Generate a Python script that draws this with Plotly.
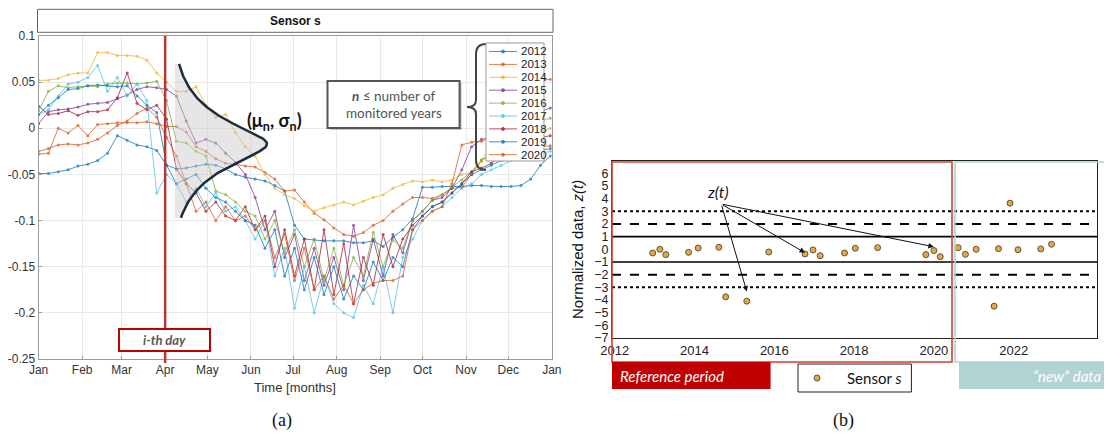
import math
import plotly.graph_objects as go

# The page body keeps the browser's 8px margin, so the figure is 1096x425 placed at (8, 8)
OFF = 8
FW, FH = 1112 - 2 * OFF, 441 - 2 * OFF

# ---------------- data: panel (a) ----------------
days = list(range(0, 365, 7))  # weekly sample days (0..364)
month_ticks = [0, 31, 59, 90, 120, 151, 181, 212, 243, 273, 304, 334, 365]
month_labels = ["Jan", "Feb", "Mar", "Apr", "May", "Jun", "Jul", "Aug", "Sep", "Oct", "Nov", "Dec", "Jan"]
y_ticks_a = [-0.25, -0.2, -0.15, -0.1, -0.05, 0, 0.05, 0.1]
y_labels_a = ["-0.25", "-0.2", "-0.15", "-0.1", "-0.05", "0", "0.05", "0.1"]

years = ["2012", "2013", "2014", "2015", "2016", "2017", "2018", "2019", "2020"]
colors = ["#0072BD", "#D95319", "#EDB120", "#7E2F8E", "#77AC30", "#4DBEEE", "#A2142F", "#0072BD", "#D95319"]

s2012 = [-0.049, -0.049, -0.047, -0.045, -0.041, -0.039, -0.035, -0.027, -0.008, -0.013, -0.018, -0.020, -0.024,
         -0.040, -0.044, -0.043, -0.041, -0.039, -0.040, -0.044, -0.050, -0.053, -0.055, -0.057, -0.062, -0.068,
         -0.105, -0.120, -0.121, -0.122, -0.122, -0.122, -0.124, -0.124, -0.122, -0.128, -0.118, -0.110, -0.098,
         -0.064, -0.064, -0.063, -0.063, -0.063, -0.062, -0.062, -0.063, -0.063, -0.063, -0.062, -0.055, -0.040, -0.030]
s2013 = [-0.028, -0.027, 0.000, -0.005, 0.003, -0.008, 0.004, 0.005, 0.006, 0.006, 0.006, 0.007, 0.005,
         0.002, 0.002, -0.004, -0.020, -0.025, -0.033, -0.038, -0.039, -0.041, -0.042, -0.048, -0.055, -0.068,
         -0.067, -0.080, -0.092, -0.099, -0.108, -0.115, -0.117, -0.113, -0.105, -0.100, -0.090, -0.082, -0.075,
         -0.075, -0.076, -0.072, -0.065, -0.064, -0.050, -0.035, -0.028, -0.024, -0.022, -0.021, -0.020, -0.020, -0.019]
s2014 = [0.052, 0.052, 0.054, 0.058, 0.060, 0.060, 0.082, 0.082, 0.079, 0.079, 0.078, 0.074, 0.060,
         0.050, 0.040, 0.040, 0.045, 0.025, 0.012, 0.015, -0.005, -0.020, -0.030, -0.050, -0.065, -0.072,
         -0.076, -0.084, -0.090, -0.086, -0.083, -0.080, -0.083, -0.079, -0.075, -0.072, -0.065, -0.061, -0.057,
         -0.058, -0.056, -0.058, -0.056, -0.050, -0.048, -0.036, -0.017, -0.015, -0.014, -0.012, -0.010, -0.005, 0.000]
s2015 = [0.005, 0.018, 0.020, 0.021, 0.023, 0.026, 0.027, 0.028, 0.032, 0.036, 0.042, 0.045, 0.044,
         0.042, 0.035, 0.008, -0.016, -0.012, -0.016, -0.027, -0.037, -0.050, -0.075, -0.110, -0.090, -0.140,
         -0.115, -0.165, -0.130, -0.170, -0.140, -0.175, -0.105, -0.165, -0.120, -0.160, -0.115, -0.135, -0.100,
         -0.090, -0.078, -0.075, -0.065, -0.045, -0.020, -0.012, -0.010, -0.008, -0.005, 0.005, 0.012, 0.018, 0.022]
s2016 = [0.019, 0.040, 0.046, 0.044, 0.045, 0.046, 0.045, 0.048, 0.049, 0.049, 0.048, 0.049, 0.051,
         0.030, -0.014, -0.016, -0.025, -0.030, -0.068, -0.072, -0.080, -0.090, -0.095, -0.120, -0.100, -0.135,
         -0.110, -0.150, -0.120, -0.165, -0.130, -0.170, -0.140, -0.160, -0.113, -0.150, -0.121, -0.130, -0.100,
         -0.090, -0.078, -0.072, -0.064, -0.056, -0.047, -0.034, -0.030, -0.025, -0.020, -0.010, 0.000, 0.008, 0.011]
s2017 = [0.015, 0.020, 0.035, 0.048, 0.050, 0.055, 0.068, 0.040, 0.055, 0.035, 0.048, 0.030, -0.070,
         -0.050, -0.060, -0.080, -0.065, -0.085, -0.070, -0.090, -0.085, -0.100, -0.120, -0.100, -0.160, -0.130,
         -0.195, -0.150, -0.200, -0.160, -0.190, -0.200, -0.205, -0.170, -0.190, -0.150, -0.200, -0.140, -0.120,
         -0.100, -0.090, -0.085, -0.075, -0.065, -0.060, -0.050, -0.045, -0.040, -0.035, -0.030, -0.028, -0.027, -0.025]
s2018 = [0.024, 0.015, 0.016, 0.019, 0.014, 0.018, 0.018, 0.020, 0.033, 0.060, 0.027, 0.020, 0.025,
         0.010, -0.044, -0.060, -0.070, -0.090, -0.080, -0.095, -0.100, -0.085, -0.110, -0.095, -0.150, -0.110,
         -0.160, -0.120, -0.175, -0.110, -0.180, -0.125, -0.190, -0.140, -0.170, -0.115, -0.150, -0.120, -0.105,
         -0.095, -0.085, -0.080, -0.070, -0.060, -0.047, -0.043, -0.038, -0.030, -0.020, -0.012, -0.008, -0.010, -0.008]
s2019 = [0.015, 0.025, 0.033, 0.042, 0.043, 0.046, 0.047, 0.046, 0.045, 0.046, 0.035, 0.025, 0.017,
         -0.040, -0.060, -0.055, -0.050, -0.065, -0.075, -0.080, -0.090, -0.100, -0.105, -0.130, -0.110, -0.160,
         -0.130, -0.175, -0.140, -0.180, -0.150, -0.185, -0.160, -0.175, -0.145, -0.165, -0.140, -0.150, -0.110,
         -0.095, -0.085, -0.080, -0.070, -0.060, -0.050, -0.045, -0.040, -0.035, -0.030, -0.027, -0.025, -0.024, -0.022]
s2020 = [-0.025, -0.022, -0.018, -0.017, -0.018, -0.016, -0.012, -0.005, 0.003, 0.008, 0.016, 0.022, 0.012,
         -0.010, -0.030, -0.060, -0.090, -0.080, -0.100, -0.085, -0.100, -0.095, -0.110, -0.100, -0.140, -0.115,
         -0.165, -0.130, -0.175, -0.160, -0.185, -0.170, -0.190, -0.175, -0.168, -0.165, -0.165, -0.160, -0.110,
         -0.100, -0.090, -0.085, -0.060, -0.018, -0.015, -0.014, -0.010, 0.000, 0.020, 0.040, 0.050, 0.052, 0.053]
series = [s2012, s2013, s2014, s2015, s2016, s2017, s2018, s2019, s2020]

ith_day = 90  # April 1st
gauss_mu, gauss_top, gauss_bot = -0.017, 0.0697, -0.097

# ---------------- data: panel (b) ----------------
z_time = [2012.95, 2013.13, 2013.28, 2013.85, 2014.09, 2014.61, 2014.78, 2015.31, 2015.86, 2016.77, 2016.97,
          2017.15, 2017.76, 2018.03, 2018.59, 2019.80, 2020.00, 2020.16, 2020.61, 2020.79, 2021.06, 2021.51,
          2021.62, 2021.91, 2022.11, 2022.68, 2022.95]
z_vals = [-0.29, 0.00, -0.42, -0.24, 0.10, 0.16, -3.75, -4.09, -0.21, -0.37, -0.05, -0.50, -0.29, 0.08, 0.13,
          -0.42, -0.10, -0.58, 0.13, -0.40, 0.00, -4.49, 0.05, 3.64, -0.03, 0.03, 0.40]
z_limits = [1, 2, 3]
z_limit_styles = ["solid", "dash", "dot"]
x_ticks_b = [2012, 2014, 2016, 2018, 2020, 2022]
y_ticks_b = list(range(-7, 7))


# ---------------- helpers (screen pixel -> paper) ----------------
def px(x):
    return (x - OFF) / FW


def py(y):
    return 1 - (y - OFF) / FH


def rect(x0, y0, x1, y1, line_color=None, width=1, fill=None, layer="above"):
    return dict(type="rect", xref="paper", yref="paper", x0=px(x0), x1=px(x1), y0=py(y1), y1=py(y0),
                line=dict(color=line_color or "rgba(0,0,0,0)", width=width if line_color else 0),
                fillcolor=fill or "rgba(0,0,0,0)", layer=layer)


def text(x, y, t, size=12, color="#222", family="Liberation Sans, Arial", xanchor="center", yanchor="middle", **kw):
    return dict(x=px(x), y=py(y), xref="paper", yref="paper", text=t, showarrow=False,
                font=dict(size=size, color=color, family=family), xanchor=xanchor, yanchor=yanchor, **kw)


fig = go.Figure()

# series of panel (a)
for yr, c, vals in zip(years, colors, series):
    fig.add_trace(go.Scatter(x=days[:len(vals)], y=vals, mode="lines+markers", name=yr,
                             line=dict(color=c, width=1), marker=dict(size=3, color=c),
                             opacity=0.75, xaxis="x", yaxis="y", showlegend=False))

# gaussian-like distribution glyph
peak_day, base_day, left_day, g_w, g_c = 162.4, 94.4, 97.0, 0.03, 0.012
vs = [gauss_top + (gauss_bot - gauss_top) * k / 120 for k in range(121)]
gx = [base_day + (peak_day - base_day) * math.exp(-(math.sqrt((v - gauss_mu) ** 2 + g_c ** 2) - g_c) / g_w) for v in vs]
gx = [max(v, left_day) for v in gx]
fig.add_trace(go.Scatter(x=[left_day] + gx + [left_day], y=[gauss_top] + vs + [gauss_bot], fill="toself",
                         fillcolor="rgba(200,200,200,0.45)", line=dict(width=0), mode="lines",
                         hoverinfo="skip", showlegend=False, xaxis="x", yaxis="y"))
fig.add_trace(go.Scatter(x=gx, y=vs, mode="lines",
                         line=dict(color="#1d2b3c", width=2.5), hoverinfo="skip", showlegend=False,
                         xaxis="x", yaxis="y"))

# panel (b) points
fig.add_trace(go.Scatter(x=z_time, y=z_vals, mode="markers", name="Sensor s",
                         marker=dict(size=6, color="#EAA636", line=dict(color="#555", width=1)),
                         xaxis="x2", yaxis="y2", showlegend=False))

shapes = []
annotations = []

# ---- panel (a) decorations ----
shapes.append(rect(37.5, 9.3, 553, 32.3, line_color="#666", width=1, fill="white"))
annotations.append(text(295, 21, "<b>Sensor s</b>", size=12, color="#111"))

shapes.append(dict(type="line", xref="x", yref="paper", x0=ith_day, x1=ith_day, y0=py(363), y1=py(36),
                   line=dict(color="#B8383A", width=2.5), layer="above"))
shapes.append(rect(119, 329, 210, 351, line_color="#C00000", width=2, fill="white"))
annotations.append(text(164.5, 340, "<b><i>i-th day</i></b>", size=13, color="#595959", family="Lato"))

annotations.append(text(274, 121, "<b>(μ<sub>n</sub>, σ<sub>n</sub>)</b>", size=18, color="#111", family="Lato"))

shapes.append(rect(329.5, 83, 461.6, 130, fill="rgba(90,90,90,0.35)", layer="above"))
shapes.append(rect(327.5, 81, 459.6, 128, line_color="#555", width=2, fill="white"))
annotations.append(text(393.5, 96, "<b><i>n</i></b> ≤ number of", size=13.5, color="#555", family="Lato"))
annotations.append(text(393.5, 113, "monitored years", size=13.5, color="#555", family="Lato"))

bx0, bxt, bxe = 476, 467, 486
path = (f"M {px(bxe)} {py(44)} Q {px(bx0)} {py(44)} {px(bx0)} {py(54)} L {px(bx0)} {py(100)} "
        f"Q {px(bx0)} {py(107)} {px(bxt)} {py(107)} Q {px(bx0)} {py(107)} {px(bx0)} {py(114)} "
        f"L {px(bx0)} {py(160)} Q {px(bx0)} {py(170)} {px(bxe)} {py(170)}")
shapes.append(dict(type="path", xref="paper", yref="paper", path=path, line=dict(color="#444", width=2), layer="above"))

# custom legend for years
shapes.append(rect(486, 43, 544, 161, line_color="#999", width=1, fill="white"))
for k, (yr, c) in enumerate(zip(years, colors)):
    yy = 51.5 + 12.9 * k
    shapes.append(dict(type="line", xref="paper", yref="paper", x0=px(489), x1=px(517), y0=py(yy), y1=py(yy),
                       line=dict(color=c, width=1), opacity=0.75, layer="above"))
    shapes.append(dict(type="circle", xref="paper", yref="paper", x0=px(501.5), x1=px(504.5), y0=py(yy + 1.5),
                       y1=py(yy - 1.5), line=dict(color=c, width=1), fillcolor=c, opacity=0.75, layer="above"))
    annotations.append(text(519, yy, yr, size=11.5, color="#222", xanchor="left"))

annotations.append(text(295, 387, "Time [months]", size=13, color="#333"))

# ---- panel (b) decorations ----
for lim, dash in zip(z_limits, z_limit_styles):
    for sgn in (1, -1):
        shapes.append(dict(type="line", xref="x2 domain", yref="y2", x0=0, x1=1, y0=sgn * lim, y1=sgn * lim,
                           line=dict(color="black", width=2 if dash != "solid" else 1.6, dash=dash), layer="below"))

shapes.append(rect(612, 162, 952, 362, line_color="#D2402C", width=1.6))
shapes.append(rect(955, 162, 1130, 362, line_color="#B5D4D4", width=1.6))
shapes.append(rect(612, 362, 770.6, 389, fill="#C00000"))
annotations.append(text(618, 376, "<i>Reference period</i>", size=15, color="white", family="Lato", xanchor="left"))
shapes.append(rect(959, 362, 1130, 389, fill="#B3D3D3"))
annotations.append(text(1031, 376, "<i>“new” data</i>", size=15, color="white", family="Lato", xanchor="left"))
shapes.append(rect(798, 364, 911.4, 392, line_color="#222", width=1, fill="white"))
shapes.append(dict(type="circle", xref="paper", yref="paper", x0=px(814), x1=px(820), y0=py(381), y1=py(375),
                   line=dict(color="#555", width=1), fillcolor="#EAA636", layer="above"))
annotations.append(text(845, 378, "Sensor <i>s</i>", size=15, color="#111", family="Lato", xanchor="left"))

annotations.append(dict(x=2014.59, y=4.55, xref="x2", yref="y2", text="<i>z(t)</i>", showarrow=False,
                        font=dict(size=16, color="#111", family="Lato")))
tail = (2014.67, 3.57)
for idx, dy in ((7, 0.75), (9, 0.1), (16, 0.3)):
    annotations.append(dict(x=z_time[idx], y=z_vals[idx] + dy, xref="x2", yref="y2", axref="x2", ayref="y2",
                            ax=tail[0], ay=tail[1], text="", showarrow=True, arrowhead=2, arrowsize=1.1,
                            arrowwidth=1, arrowcolor="#111"))

annotations.append(text(577, 250, "Normalized data, <i>z(t)</i>", size=15, color="#111", textangle=-90))

annotations.append(text(282, 433, "(a)", size=18, color="#111", family="Liberation Serif", yanchor="bottom"))
annotations.append(text(843, 433, "(b)", size=18, color="#111", family="Liberation Serif", yanchor="bottom"))

fig.update_layout(
    width=FW, height=FH, autosize=False, margin=dict(l=0, r=0, t=0, b=0),
    paper_bgcolor="white", plot_bgcolor="white",
    font=dict(family="Liberation Sans, Arial", size=12, color="#333"),
    xaxis=dict(domain=[px(38.6), px(551.8)], range=[0, 365], tickvals=month_ticks, ticktext=month_labels,
               showgrid=True, gridcolor="#e9e9e9", zeroline=False, showline=True, mirror=True,
               linecolor="#9a9a9a", linewidth=1, ticks="inside", ticklen=3, tickcolor="#9a9a9a",
               tickfont=dict(size=12, color="#333"), anchor="y", automargin=False),
    yaxis=dict(domain=[py(359), py(36)], range=[-0.25, 0.1], tickvals=y_ticks_a, ticktext=y_labels_a,
               showgrid=True, gridcolor="#e9e9e9", zeroline=False, showline=True, mirror=True,
               linecolor="#9a9a9a", linewidth=1, ticks="inside", ticklen=3, tickcolor="#9a9a9a",
               tickfont=dict(size=12, color="#333"), anchor="x", automargin=False),
    xaxis2=dict(domain=[px(612), px(1097)], range=[2011.93, 2024.09], tickvals=x_ticks_b,
                showgrid=False, zeroline=False, showline=True, mirror=True, linecolor="#222", linewidth=1.2,
                tickfont=dict(size=13, color="#222"), anchor="y2", automargin=False),
    yaxis2=dict(domain=[py(338), py(160.6)], range=[-7, 7], tickvals=y_ticks_b,
                showgrid=False, zeroline=False, showline=True, mirror=True, linecolor="#222", linewidth=1.2,
                tickfont=dict(size=12.5, color="#222"), anchor="x2", automargin=False),
    shapes=shapes, annotations=annotations, showlegend=False,
)

fig.write_html("out.html", config={"displayModeBar": False, "responsive": False})
